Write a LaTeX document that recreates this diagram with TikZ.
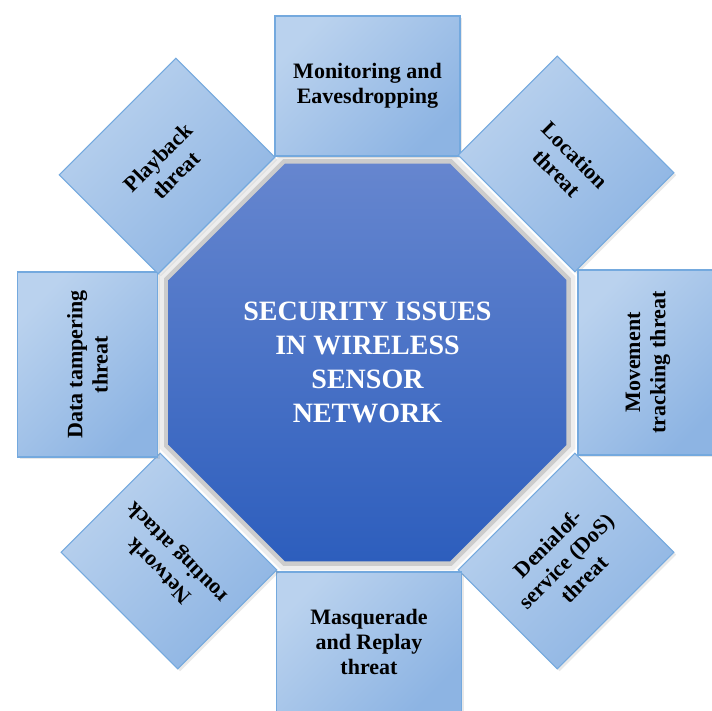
\documentclass[tikz,border=0pt]{standalone}
\usepackage{fontspec}
\setmainfont{Liberation Serif}
\usepackage{tikz}
\usetikzlibrary{shapes.geometric,shadows}
\definecolor{boxlight}{HTML}{BAD2EE}
\definecolor{boxdark}{HTML}{8DB4E3}
\definecolor{boxline}{HTML}{74A9DE}
\definecolor{coretop}{HTML}{6686CF}
\definecolor{corebot}{HTML}{2D5EBD}

\begin{document}
\begin{tikzpicture}[x=0.75pt,y=0.75pt,yscale=-1,xscale=1,
    threat/.style={draw=boxline, line width=0.8pt, top color=boxlight, bottom color=boxdark,
        shading angle=45, align=center, inner sep=2pt, minimum height=105pt,
        font=\bfseries\fontsize{16.5}{19}\selectfont,
        drop shadow={opacity=0.18, shadow xshift=1.8pt, shadow yshift=-1.8pt}},
    side/.style={threat, minimum width=138.75pt},
    corner/.style={threat, minimum width=123.75pt},
    core/.style={regular polygon, regular polygon sides=8, minimum size=323pt, inner sep=0pt,
        top color=coretop, bottom color=corebot, text=white, align=center,
        font=\bfseries\fontsize{21}{25.5}\selectfont,
        general shadow={fill=black!7, shadow scale=1.045},
        general shadow={fill=black!20, shadow scale=1.022}}]
        \useasboundingbox (0,0) rectangle (712,710);
        % centre
        \node[core] (wsn) at (367.5,362.5) {SECURITY ISSUES\\IN WIRELESS\\SENSOR\\NETWORK};
        % boxes round the centre
        \node[side] (mon) at (367.5,86) {Monitoring and\\Eavesdropping};
        \node[corner, rotate=-45] (loc) at (566,164) {Location\\threat};
        \node[side, rotate=90] (move) at (648,362.5) {Movement\\tracking threat};
        \node[corner, rotate=45] (dos) at (566,561) {Denialof-\\service (DoS)\\threat};
        \node[side] (masq) at (369,642) {Masquerade\\and Replay\\threat};
        \node[corner, rotate=135] (net) at (169,561) {Network\\routing attack};
        \node[side, rotate=90] (data) at (87.5,364.5) {Data tampering\\threat};
        \node[corner, rotate=45] (play) at (167,166) {Playback\\threat};
\end{tikzpicture}
\end{document}
